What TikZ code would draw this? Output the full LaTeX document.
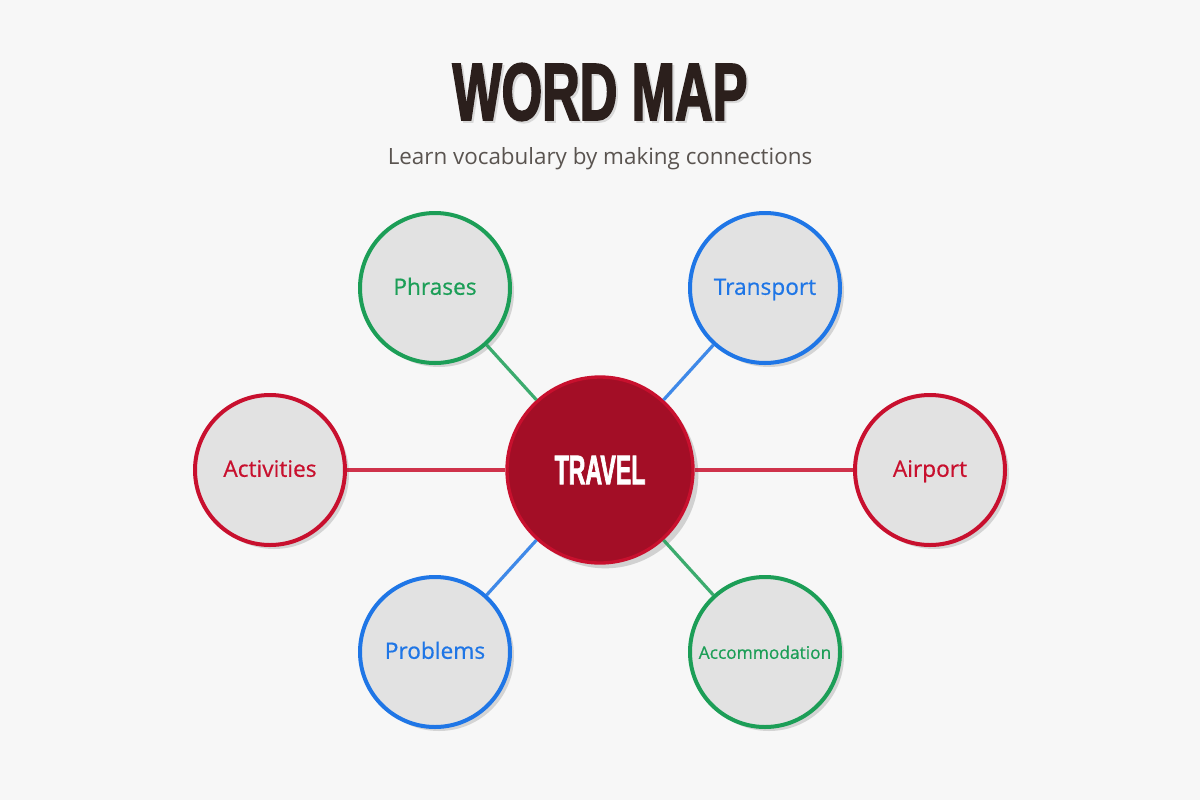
\documentclass[tikz,border=0pt]{standalone}
\usepackage{fontspec}
\setmainfont{Open Sans}
\newfontfamily\headfont{Liberation Sans Bold}[FakeStretch=0.64,FakeBold=2]
\newfontfamily\hubfont{Liberation Sans Bold}[FakeStretch=0.56,FakeBold=1.5]
\newfontfamily\leaffont{Open Sans}[FakeBold=0.6]
\usetikzlibrary{shadows}
\definecolor{paper}{HTML}{F7F7F7}
\definecolor{bubble}{HTML}{E2E2E2}
\definecolor{ink}{HTML}{2B1F1C}
\definecolor{subink}{HTML}{5A5450}
\definecolor{mapgreen}{HTML}{1C9E57}
\definecolor{mapblue}{HTML}{1F76E6}
\definecolor{mapred}{HTML}{C8102E}
\definecolor{hubred}{HTML}{A30E26}
\tikzset{%
    base/.style = {
        circle, minimum size=112.5pt, line width=3pt, fill=bubble,
        inner sep=0pt, text centered, text height=1.02em, text depth=0pt,
        font=\leaffont\fontsize{17}{20}\selectfont,
        drop shadow={shadow xshift=3pt, shadow yshift=-3pt, fill=black!17, opacity=1}
    },
    leafGreen/.style = {base, draw=mapgreen, text=mapgreen},
    leafBlue/.style  = {base, draw=mapblue, text=mapblue},
    leafRed/.style   = {base, draw=mapred, text=mapred},
    hub/.style = {
        circle, minimum size=139.5pt, line width=2.5pt, draw=mapred, fill=hubred,
        text=white, font=\hubfont\fontsize{31}{36}\selectfont,
        drop shadow={shadow xshift=4pt, shadow yshift=-4pt, fill=black!18, opacity=1}
    },
    link/.style = {line width=2.4pt, opacity=0.85},
}

\begin{document}
\begin{tikzpicture}[x=0.75pt, y=-0.75pt]
    % Canvas
    \fill[paper] (0,0) rectangle (1200,800);
    \useasboundingbox (0,0) rectangle (1200,800);

    % Heading
    \node (titleShadow) [anchor=base, text=black!15, font=\headfont\fontsize{61}{70}\selectfont]
        at (602,122) {WORD MAP};
    \node (title) [anchor=base, text=ink, font=\headfont\fontsize{61}{70}\selectfont]
        at (600,120) {WORD MAP};
    \node (subtitle) [anchor=base, text=subink, font=\fontsize{16.8}{20}\selectfont]
        at (600,164) {Learn vocabulary by making connections};

    % Nodes position
    \node (travel)        [hub]       at (600,470) {TRAVEL};
    \node (phrases)       [leafGreen] at (435,288) {Phrases};
    \node (transport)     [leafBlue]  at (765,288) {Transport};
    \node (activities)    [leafRed]   at (270,470) {Activities};
    \node (airport)       [leafRed]   at (930,470) {Airport};
    \node (problems)      [leafBlue]  at (435,652) {Problems};
    \node (accommodation) [leafGreen, font=\leaffont\fontsize{13}{15}\selectfont]
                                      at (765,652) {Accommodation};

    % Link specification
    \draw[link, mapgreen] (travel) -- (phrases);
    \draw[link, mapblue]  (travel) -- (transport);
    \draw[link, mapred]   (travel) -- (activities);
    \draw[link, mapred]   (travel) -- (airport);
    \draw[link, mapblue]  (travel) -- (problems);
    \draw[link, mapgreen] (travel) -- (accommodation);
\end{tikzpicture}
\end{document}
